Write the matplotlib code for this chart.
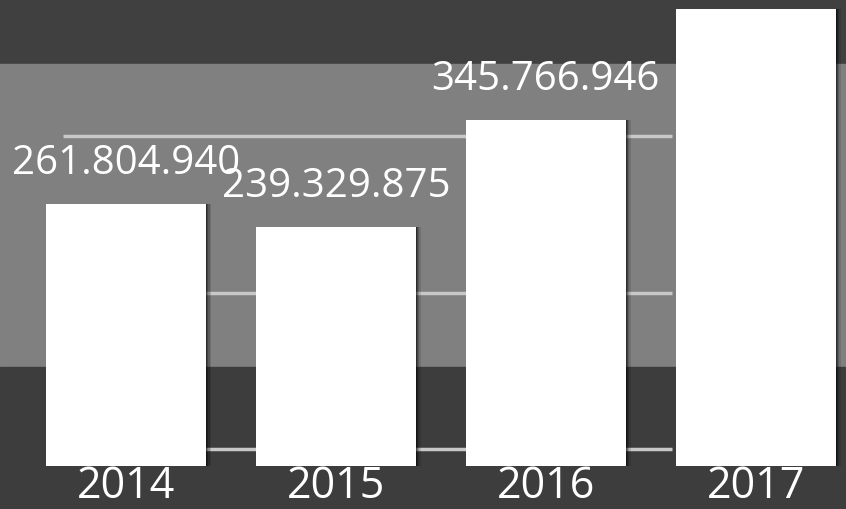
import matplotlib
matplotlib.use('Agg')
import matplotlib.pyplot as plt
import numpy as np

# data (values in millions, 2017 bar runs off the top so its label is not visible)
years = ['2014', '2015', '2016', '2017']
values = [261.804940, 239.329875, 345.766946, 457.0]
labels = ['261.804.940', '239.329.875', '345.766.946', None]
gridlines = [17, 173, 330]

plt.rcParams['font.family'] = ['Open Sans', 'DejaVu Sans']

fig = plt.figure(figsize=(8.46, 5.10), dpi=100)
fig.patch.set_facecolor('#3d3d3d')
ax = fig.add_axes([0, 0, 1, 1])
ax.set_xlim(-0.6, 3.43)
ax.set_ylim(-43, 467)
ax.axis('off')

# background bands
ax.axhspan(402, 467, color='#404040', zorder=0)
ax.axhspan(99, 402, color='#808080', zorder=0)
ax.axhspan(-43, 99, color='#3d3d3d', zorder=0)

# gridlines
ax.hlines(gridlines, -0.3, 2.6, color='#c8c8c8', lw=2.5, zorder=1)

x = np.arange(len(years))
w = 0.76
# soft shadow on the right edge of each bar
for i, a in enumerate([0.12, 0.18, 0.25, 0.35]):
    ax.bar(x + 0.006 * (4 - i), values, width=w, color='black', alpha=a, zorder=2)
ax.bar(x, values, width=w, color='white', zorder=3)

for xi, v, lab in zip(x, values, labels):
    if lab is None:
        continue
    ax.text(xi, v + 31, lab, ha='center', va='baseline', color='white',
            fontsize=29, zorder=4)

for xi, yr in zip(x, years):
    ax.text(xi, -42, yr, ha='center', va='bottom', color='white', fontsize=31, zorder=4)

fig.savefig('out.png', dpi=100)
